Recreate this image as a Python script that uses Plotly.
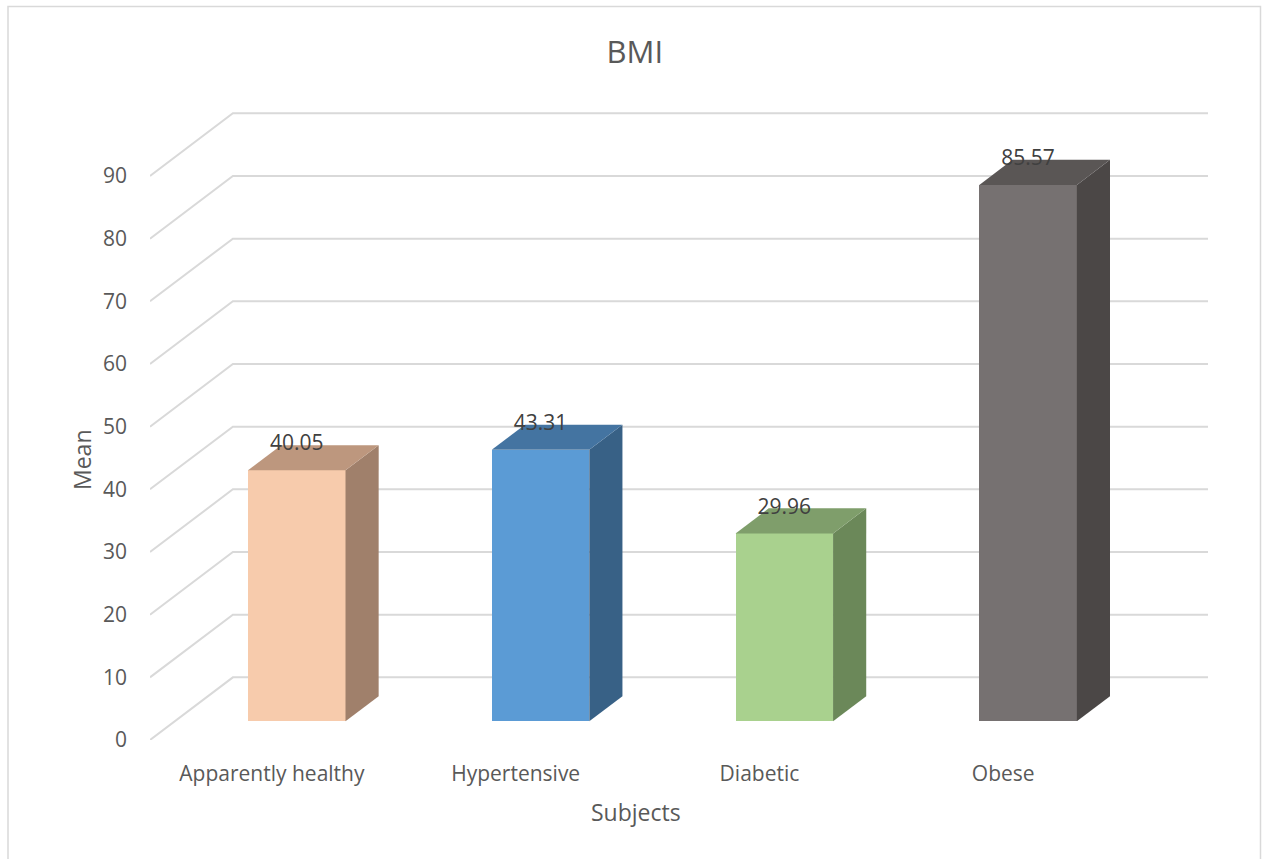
import plotly.graph_objects as go

# ---- data ----
categories = ["Apparently healthy", "Hypertensive", "Diabetic", "Obese"]
means = [40.05, 43.31, 29.96, 85.57]
tick_values = [0, 10, 20, 30, 40, 50, 60, 70, 80, 90]
front_colors = ["#F7CBAC", "#5B9BD5", "#A9D18E", "#767171"]
side_colors = ["#A0806B", "#386186", "#6B8859", "#4B4746"]
top_colors = ["#BD977E", "#4474A1", "#7F9E6B", "#5A5655"]

# ---- pseudo-3D projection parameters ----
DX = 0.34      # horizontal shift of full depth (category units)
DY = 10.0      # vertical shift of full depth (value units)
BAR_W = 0.4
D_FRONT, D_BACK = 0.3, 0.7
n = len(categories)

fig = go.Figure()
shapes = []

# back wall + side wall gridlines
for v in tick_values:
    xs = [0, DX, n + DX]
    ys = [v, v + DY, v + DY]
    path = f"M {xs[0]},{ys[0]} L {xs[1]},{ys[1]} L {xs[2]},{ys[2]}"
    shapes.append(dict(type="path", path=path, xref="x", yref="y", layer="below",
                       line=dict(color="#D9D9D9", width=2)))

# front faces as bars
fx = [i + 0.5 + D_FRONT * DX for i in range(n)]
fig.add_trace(go.Bar(
    x=fx, y=means, base=[D_FRONT * DY] * n, width=BAR_W,
    marker=dict(color=front_colors, line=dict(width=0)),
    hoverinfo="skip", showlegend=False,
))

ddx = (D_BACK - D_FRONT) * DX
ddy = (D_BACK - D_FRONT) * DY
for i, v in enumerate(means):
    x0 = fx[i] - BAR_W / 2
    x1 = fx[i] + BAR_W / 2
    yb = D_FRONT * DY
    yt = v + D_FRONT * DY
    # side face
    fig.add_trace(go.Scatter(
        x=[x1, x1 + ddx, x1 + ddx, x1, x1],
        y=[yb, yb + ddy, yt + ddy, yt, yb],
        fill="toself", fillcolor=side_colors[i], mode="lines",
        line=dict(width=0, color=side_colors[i]), hoverinfo="skip", showlegend=False))
    # top face
    fig.add_trace(go.Scatter(
        x=[x0, x0 + ddx, x1 + ddx, x1, x0],
        y=[yt, yt + ddy, yt + ddy, yt, yt],
        fill="toself", fillcolor=top_colors[i], mode="lines",
        line=dict(width=0, color=top_colors[i]), hoverinfo="skip", showlegend=False))

FONT = "Open Sans, sans-serif"

# data labels
fig.add_trace(go.Scatter(
    x=fx, y=[v + D_BACK * DY for v in means],
    text=[f"{v:.2f}" for v in means], mode="text", textposition="middle center",
    textfont=dict(family=FONT, size=21, color="#404040"),
    hoverinfo="skip", showlegend=False))

# outer border of chart area
shapes.append(dict(type="rect", xref="paper", yref="paper",
                   x0=(8 - 150) / 1058, x1=(1260.5 - 150) / 1058,
                   y0=(740 - 880) / 640, y1=(740 - 6.5) / 640,
                   line=dict(color="#D9D9D9", width=1.5), layer="below"))

fig.update_layout(
    width=1262, height=859,
    margin=dict(l=150, r=54, t=100, b=119),
    plot_bgcolor="white", paper_bgcolor="white",
    bargap=0,
    title=dict(text="BMI", x=0.503, xref="container", y=1 - 52 / 859,
               yref="container", xanchor="center", yanchor="middle",
               font=dict(family=FONT, size=31, color="#595959")),
    xaxis=dict(range=[0, n + DX], tickvals=[i + 0.5 for i in range(n)],
               ticktext=categories, showgrid=False, zeroline=False, showline=False,
               ticks="", ticklabelstandoff=19,
               tickfont=dict(family=FONT, size=21, color="#595959")),
    yaxis=dict(range=[0, 640 / 6.267], tickvals=tick_values,
               ticktext=[str(t) for t in tick_values],
               showgrid=False, zeroline=False, showline=False, ticks="",
               ticklabelstandoff=22,
               tickfont=dict(family=FONT, size=21, color="#595959")),
    shapes=shapes,
    annotations=[
        dict(text="Mean", xref="paper", yref="paper",
             x=(82 - 150) / 1058, y=(740 - 460) / 640, showarrow=False,
             textangle=-90, xanchor="center", yanchor="middle",
             font=dict(family=FONT, size=23, color="#595959")),
        dict(text="Subjects", xref="paper", yref="paper",
             x=(636 - 150) / 1058, y=(740 - 812) / 640, showarrow=False,
             xanchor="center", yanchor="middle",
             font=dict(family=FONT, size=23, color="#595959")),
    ],
)

fig.write_html("out.html")
